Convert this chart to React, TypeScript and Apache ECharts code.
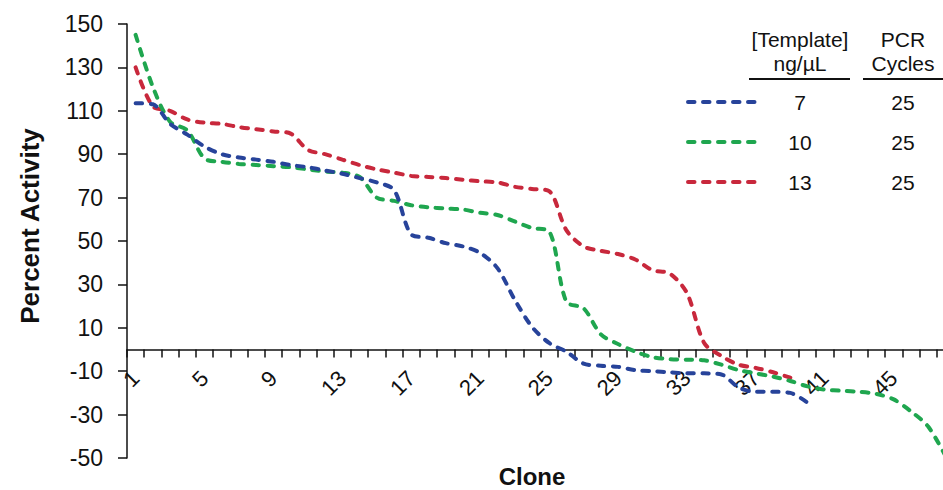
import React, { useEffect, useRef } from "react";
import * as echarts from "echarts";

const categories = [
  "1","2","3","4","5","6","7","8","9","10","11","12","13","14","15","16",
  "17","18","19","20","21","22","23","24","25","26","27","28","29","30","31","32",
  "33","34","35","36","37","38","39","40","41","42","43","44","45","46","47","48",
];

const blueValues = [
  113.5, 113, 104, 99, 93.5, 90, 88.5, 87.5, 86.5, 85, 84, 82.5, 81, 79, 77, 73.5,
  53, 51.5, 49, 47.5, 44.5, 37.5, 23, 10.5, 3, -1, -6.5, -7.5, -8, -9.5, -10, -10.5,
  -11, -11, -11.5, -17.5, -19.5, -19.5, -20, -24.5,
];

const greenValues = [
  145, 121, 105, 101, 88, 86.5, 85.5, 85, 84.5, 84, 83, 82, 81.5, 79.5, 70, 68.5,
  66.5, 65.5, 65, 64.5, 63, 62, 59, 56, 54.5, 22, 19, 7, 2.5, -1, -3.5, -4.5,
  -4.7, -5, -7, -9.5, -11, -12.5, -14.5, -17, -18.5, -19, -19.5, -20.5, -23, -28.5, -35.5, -49,
];

const redValues = [
  130, 112, 110, 106, 104.5, 104, 102.5, 101.5, 100.5, 99.5, 92, 90, 87.5, 85, 83, 81.5,
  80, 79.5, 79, 78.2, 77.5, 77, 75, 74, 73, 55, 47.5, 45.5, 44, 41.5, 36.5, 35,
  26, 3, -3, -7, -8.5, -10.5, -13,
];

const seriesNames = ["7 ng/µL", "10 ng/µL", "13 ng/µL"];
const templateConc = ["7", "10", "13"];
const pcrCycles = ["25", "25", "25"];
const seriesColors = ["#27439a", "#1fa64f", "#c8283c"];

const FONT = 'Arial, "Liberation Sans", Helvetica, sans-serif';

const Y_MIN = -50;
const Y_MAX = 150;
const GRID_TOP = 24;
const GRID_HEIGHT = 434;

export default function App() {
  const ref = useRef<HTMLDivElement>(null);

  useEffect(() => {
    if (!ref.current) return;
    const chart = echarts.init(ref.current, undefined, { renderer: "svg" });

    const dataSets = [blueValues, greenValues, redValues];
    const dash = [6.5, 8.5];
    // move the category axis up from the grid bottom to the value 0
    const zeroOffset = -(GRID_HEIGHT * (0 - Y_MIN)) / (Y_MAX - Y_MIN);

    const legendRowsY = [102, 142, 182];
    const legendGraphics: any[] = [];
    legendRowsY.forEach((y, i) => {
      legendGraphics.push({
        type: "line",
        shape: { x1: 688, y1: y, x2: 757, y2: y },
        style: { stroke: seriesColors[i], lineWidth: 4, lineDash: dash, lineCap: "round" },
      });
      legendGraphics.push({
        type: "text",
        x: 800,
        y: y,
        style: {
          text: templateConc[i], font: `21px ${FONT}`, fill: "#111",
          textAlign: "center", textVerticalAlign: "middle",
        },
      });
      legendGraphics.push({
        type: "text",
        x: 903,
        y: y,
        style: {
          text: pcrCycles[i], font: `21px ${FONT}`, fill: "#111",
          textAlign: "center", textVerticalAlign: "middle",
        },
      });
    });

    const option: any = {
      animation: false,
      backgroundColor: "#ffffff",
      grid: {
        left: 127, top: GRID_TOP, width: 827, height: GRID_HEIGHT,
        containLabel: false, outerBoundsMode: "none",
      },
      xAxis: {
        type: "category",
        data: categories,
        boundaryGap: true,
        position: "bottom",
        offset: zeroOffset,
        axisLine: { onZero: false, lineStyle: { color: "#111", width: 1.5 } },
        axisTick: { show: true, interval: 0, length: 8, inside: false, lineStyle: { color: "#111", width: 1.5 } },
        axisLabel: {
          interval: 3, rotate: 45, margin: 25, color: "#111",
          fontSize: 22, fontFamily: FONT,
        },
        splitLine: { show: false },
      },
      yAxis: {
        type: "value",
        min: Y_MIN,
        max: Y_MAX,
        interval: 20,
        axisLine: { show: true, lineStyle: { color: "#111", width: 1.5 } },
        axisTick: { show: true, length: 9, lineStyle: { color: "#111", width: 1.5 } },
        axisLabel: { margin: 24, color: "#111", fontSize: 23, fontFamily: FONT },
        splitLine: { show: false },
      },
      series: dataSets.map((d, i) => ({
        name: seriesNames[i],
        type: "line",
        data: d,
        smooth: 0.3,
        symbol: "none",
        lineStyle: { color: seriesColors[i], width: 4, type: dash, cap: "round" },
        z: 3 - i,
      })),
      graphic: [
        {
          type: "text",
          x: 30,
          y: 226,
          rotation: Math.PI / 2,
          style: {
            text: "Percent Activity", font: `bold 26px ${FONT}`, fill: "#111",
            textAlign: "center", textVerticalAlign: "middle",
          },
        },
        {
          type: "text",
          x: 532,
          y: 476,
          style: {
            text: "Clone", font: `bold 24px ${FONT}`, fill: "#111",
            textAlign: "center", textVerticalAlign: "middle",
          },
        },
        {
          type: "text", x: 800, y: 39,
          style: { text: "[Template]", font: `21px ${FONT}`, fill: "#111", textAlign: "center", textVerticalAlign: "middle" },
        },
        {
          type: "text", x: 800, y: 63,
          style: { text: "ng/µL", font: `21px ${FONT}`, fill: "#111", textAlign: "center", textVerticalAlign: "middle" },
        },
        {
          type: "text", x: 903, y: 39,
          style: { text: "PCR", font: `21px ${FONT}`, fill: "#111", textAlign: "center", textVerticalAlign: "middle" },
        },
        {
          type: "text", x: 903, y: 63,
          style: { text: "Cycles", font: `21px ${FONT}`, fill: "#111", textAlign: "center", textVerticalAlign: "middle" },
        },
        {
          type: "line",
          shape: { x1: 749, y1: 79, x2: 850, y2: 79 },
          style: { stroke: "#111", lineWidth: 2 },
        },
        {
          type: "line",
          shape: { x1: 863, y1: 79, x2: 943, y2: 79 },
          style: { stroke: "#111", lineWidth: 2 },
        },
        ...legendGraphics,
      ],
    };

    chart.setOption(option);
    return () => chart.dispose();
  }, []);

  return (
    <div
      style={{
        position: "fixed", left: 0, top: 0, width: 943, height: 490,
        overflow: "hidden", background: "#fff",
      }}
    >
      <div ref={ref} style={{ width: 956, height: 490 }} />
    </div>
  );
}
